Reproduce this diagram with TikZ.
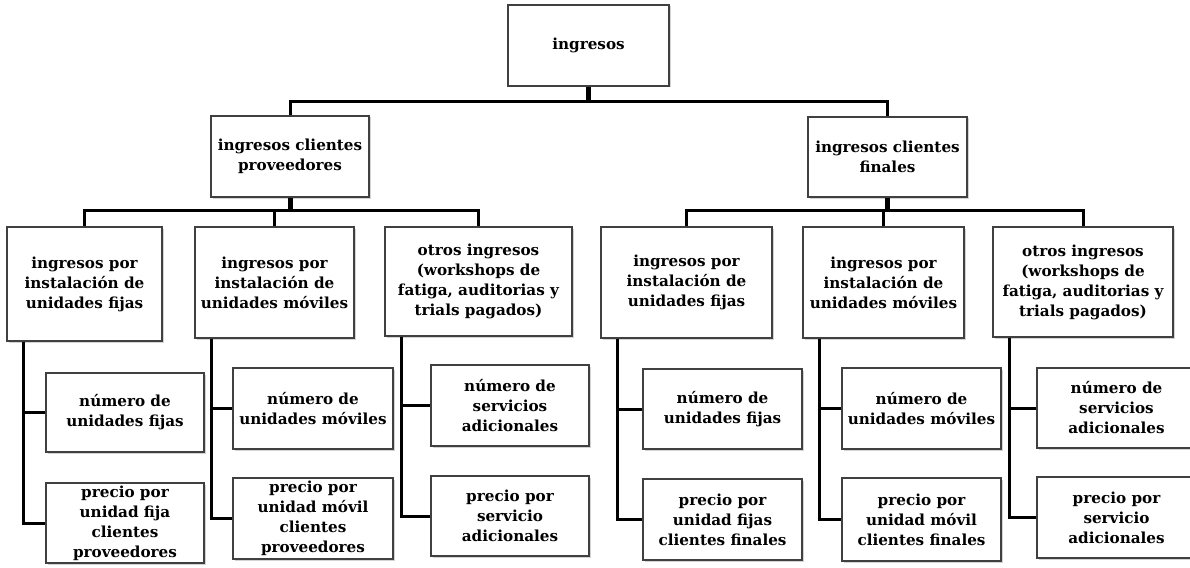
\documentclass[tikz,border=0pt]{standalone}
\usepackage{fontspec}
\setmainfont{DejaVu Serif}
\usetikzlibrary{shadows}
\definecolor{BoxClr}{rgb}{0.25,0.25,0.25}

\begin{document}
\begin{tikzpicture}[x=1pt,y=-1pt,
  caja/.style={draw=BoxClr,line width=1.1pt,fill=white,inner sep=0pt,
    align=center,font=\bfseries\fontsize{15.2}{20}\selectfont,
    drop shadow={shadow xshift=1.5pt,shadow yshift=-1.5pt,opacity=.35,fill=gray}},
  rama/.style={line width=3pt,black},
  tronco/.style={line width=5pt,black}]
\useasboundingbox (0,0) rectangle (1190,567);

% nivel 0 y 1
\node[caja,minimum width=161pt,minimum height=81pt] (ing) at (588.5,45.5) {ingresos};
\node[caja,minimum width=158pt,minimum height=81pt] (icp) at (290,156.5) {ingresos clientes\\proveedores};
\node[caja,minimum width=159pt,minimum height=80pt] (icf) at (887.5,157) {ingresos clientes\\finales};

% nivel 2
\node[caja,minimum width=155pt,minimum height=114pt] (pfija) at (84.5,284) {ingresos por\\instalación de\\unidades fijas};
\node[caja,minimum width=159pt,minimum height=111pt] (pmovil) at (274.5,282.5) {ingresos por\\instalación de\\unidades móviles};
\node[caja,minimum width=187pt,minimum height=109pt] (potros) at (478.5,281.5) {otros ingresos\\(workshops de\\fatiga, auditorias y\\trials pagados)};
\node[caja,minimum width=171pt,minimum height=111pt] (ffija) at (686.5,282.5) {ingresos por\\instalación de\\unidades fijas};
\node[caja,minimum width=161pt,minimum height=111pt] (fmovil) at (883.5,282.5) {ingresos por\\instalación de\\unidades móviles};
\node[caja,minimum width=180pt,minimum height=110pt] (fotros) at (1083,282) {otros ingresos\\(workshops de\\fatiga, auditorias y\\trials pagados)};

% nivel 3
\node[caja,minimum width=158pt,minimum height=79pt] (pfijaN) at (125,412.5) {número de\\unidades fijas};
\node[caja,minimum width=158pt,minimum height=80pt] (pfijaP) at (125,523) {precio por\\unidad fija\\clientes\\proveedores};
\node[caja,minimum width=160pt,minimum height=81pt] (pmovilN) at (313,408.5) {número de\\unidades móviles};
\node[caja,minimum width=160pt,minimum height=81pt] (pmovilP) at (313,518.5) {precio por\\unidad móvil\\clientes\\proveedores};
\node[caja,minimum width=158pt,minimum height=81pt] (potrosN) at (510,405.5) {número de\\servicios\\adicionales};
\node[caja,minimum width=158pt,minimum height=80pt] (potrosP) at (510,516) {precio por\\servicio\\adicionales};
\node[caja,minimum width=159pt,minimum height=80pt] (ffijaN) at (722.5,409) {número de\\unidades fijas};
\node[caja,minimum width=159pt,minimum height=81pt] (ffijaP) at (722.5,519.5) {precio por\\unidad fijas\\clientes finales};
\node[caja,minimum width=159pt,minimum height=81pt] (fmovilN) at (921.5,408.5) {número de\\unidades móviles};
\node[caja,minimum width=159pt,minimum height=83pt] (fmovilP) at (921.5,519.5) {precio por\\unidad móvil\\clientes finales};
\node[caja,minimum width=159pt,minimum height=80pt] (fotrosN) at (1116.5,408) {número de\\servicios\\adicionales};
\node[caja,minimum width=159pt,minimum height=81pt] (fotrosP) at (1116.5,517.5) {precio por\\servicio\\adicionales};

% conectores del arbol
\draw[tronco] (ing.south) -- ++(0,16);
\draw[rama] (icp.north) -- ++(0,-14) -| (icf.north);

\draw[tronco] (icp.south) -- ++(0,14);
\draw[rama] (pfija.north) -- ++(0,-16) -| (potros.north);
\draw[rama] (pmovil.north) -- ++(0,-16);

\draw[tronco] (icf.south) -- ++(0,14);
\draw[rama] (ffija.north) -- ++(0,-16) -| (fotros.north);
\draw[rama] (fmovil.north) -- ++(0,-16);

% ramas laterales
\foreach \p in {pfija,pmovil,potros,ffija,fmovil,fotros}{
  \draw[rama] ([xshift=17.5pt]\p.south west) |- (\p N.west);
  \draw[rama] ([xshift=17.5pt]\p.south west) |- (\p P.west);
}

\end{tikzpicture}
\end{document}
